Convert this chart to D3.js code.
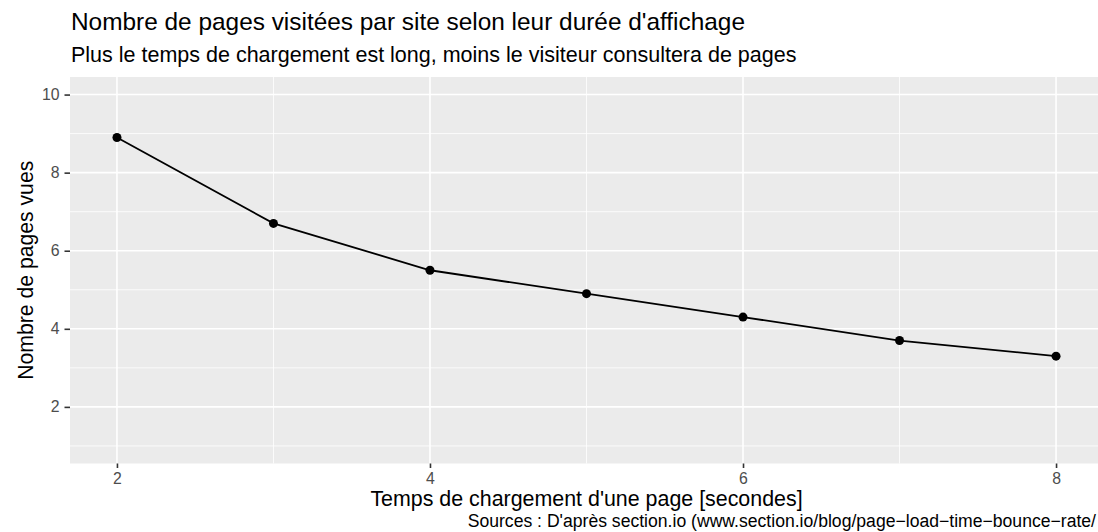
<!DOCTYPE html>
<html>
<head>
<meta charset="utf-8">
<script src="https://cdn.jsdelivr.net/npm/d3@7"></script>
<style>
  html, body { margin: 0; padding: 0; background: #fff; }
  svg { display: block; font-family: "Liberation Sans", Arial, Helvetica, sans-serif; }
</style>
</head>
<body>
<svg id="chart" width="1098" height="532"></svg>
<script>
// Load time (seconds) vs. pages viewed per visit
const loadSeconds = [2, 3, 4, 5, 6, 7, 8];
const pagesViewed = [8.9, 6.7, 5.5, 4.9, 4.3, 3.7, 3.3];
const xTicks = [2, 4, 6, 8];
const yTicks = [2, 4, 6, 8, 10];
const xMinor = [3, 5, 7];
const yMinor = [1, 3, 5, 7, 9];

const titleText = "Nombre de pages visitées par site selon leur durée d'affichage";
const subtitleText = "Plus le temps de chargement est long, moins le visiteur consultera de pages";
const xLabel = "Temps de chargement d'une page [secondes]";
const yLabel = "Nombre de pages vues";
const captionText = "Sources : D'après section.io (www.section.io/blog/page\u2212load\u2212time\u2212bounce\u2212rate/";

const svg = d3.select("#chart");
const panel = { left: 70, top: 77, right: 1103, bottom: 463.5 };

// x range 2..8 and y limits 1..10, each padded by 5%
const x = d3.scaleLinear().domain([1.7, 8.3]).range([panel.left, panel.right]);
const y = d3.scaleLinear().domain([0.55, 10.45]).range([panel.bottom, panel.top]);

// Panel background
svg.append("rect")
  .attr("x", panel.left).attr("y", panel.top)
  .attr("width", panel.right - panel.left).attr("height", panel.bottom - panel.top)
  .attr("fill", "#EBEBEB");

const grid = svg.append("g");
grid.selectAll(".ymin").data(yMinor).join("line")
  .attr("x1", panel.left).attr("x2", panel.right)
  .attr("y1", d => y(d)).attr("y2", d => y(d))
  .attr("stroke", "#fff").attr("stroke-width", 0.8);
grid.selectAll(".xmin").data(xMinor).join("line")
  .attr("y1", panel.top).attr("y2", panel.bottom)
  .attr("x1", d => x(d)).attr("x2", d => x(d))
  .attr("stroke", "#fff").attr("stroke-width", 0.8);
grid.selectAll(".ymaj").data(yTicks).join("line")
  .attr("x1", panel.left).attr("x2", panel.right)
  .attr("y1", d => y(d)).attr("y2", d => y(d))
  .attr("stroke", "#fff").attr("stroke-width", 1.6);
grid.selectAll(".xmaj").data(xTicks).join("line")
  .attr("y1", panel.top).attr("y2", panel.bottom)
  .attr("x1", d => x(d)).attr("x2", d => x(d))
  .attr("stroke", "#fff").attr("stroke-width", 1.6);

// Axes
const xAxis = svg.append("g")
  .attr("transform", `translate(0,${panel.bottom})`)
  .call(d3.axisBottom(x).tickValues(xTicks).tickSize(4.5).tickPadding(4.5).tickFormat(d3.format("d")));
const yAxis = svg.append("g")
  .attr("transform", `translate(${panel.left},0)`)
  .call(d3.axisLeft(y).tickValues(yTicks).tickSize(5.5).tickPadding(5).tickFormat(d3.format("d")));
[xAxis, yAxis].forEach(g => {
  g.select(".domain").remove();
  g.selectAll(".tick line").attr("stroke", "#333").attr("stroke-width", 1.6);
  g.selectAll(".tick text").attr("fill", "#4D4D4D")
    .style("font-size", "15.8px").style("font-family", "Liberation Sans, Arial, sans-serif");
});

// Line and points
const data = loadSeconds.map((s, i) => ({ s, v: pagesViewed[i] }));
svg.append("path")
  .datum(data)
  .attr("fill", "none").attr("stroke", "#000").attr("stroke-width", 1.8)
  .attr("d", d3.line().x(d => x(d.s)).y(d => y(d.v)));
svg.selectAll(".pt").data(data).join("circle")
  .attr("cx", d => x(d.s)).attr("cy", d => y(d.v)).attr("r", 4.5)
  .attr("fill", "#000");

// Titles
svg.append("text").attr("x", 71).attr("y", 29.7)
  .style("font-size", "24.4px").attr("fill", "#000").text(titleText);
svg.append("text").attr("x", 71).attr("y", 62)
  .style("font-size", "21.5px").attr("fill", "#000").text(subtitleText);
svg.append("text").attr("x", (panel.left + panel.right) / 2).attr("y", 506)
  .attr("text-anchor", "middle").style("font-size", "21.4px").attr("fill", "#000").text(xLabel);
svg.append("text")
  .attr("transform", `translate(33,${(panel.top + panel.bottom) / 2}) rotate(-90)`)
  .attr("text-anchor", "middle").style("font-size", "21.2px").attr("fill", "#000").text(yLabel);
svg.append("text").attr("x", 1096).attr("y", 527)
  .attr("text-anchor", "end").style("font-size", "17.6px").attr("fill", "#000").text(captionText);
</script>
</body>
</html>
